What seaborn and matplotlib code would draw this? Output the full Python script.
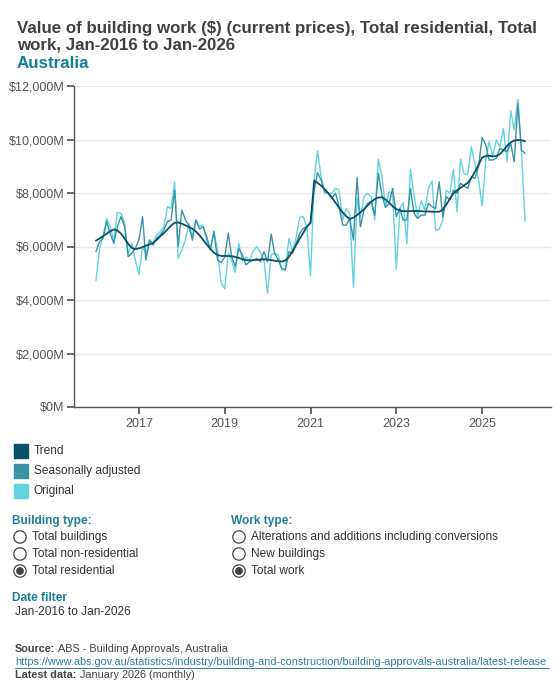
import numpy as np
import pandas as pd
import matplotlib
matplotlib.use("Agg")
import matplotlib.pyplot as plt
from matplotlib.patches import Circle, Rectangle
from matplotlib.ticker import FuncFormatter
import seaborn as sns

# monthly values, $M, Jan-2016 .. Jan-2026
trend = [
    6220, 6300, 6390, 6480, 6570, 6640, 6600, 6480, 6300, 6100, 5950, 5900,
    5930, 5980, 6030, 6080, 6130, 6250, 6380, 6500, 6640, 6780, 6890, 6900,
    6850, 6790, 6730, 6660, 6560, 6420, 6250, 6080, 5910, 5770, 5680, 5650,
    5645, 5645, 5640, 5610, 5570, 5530, 5490, 5480, 5490, 5500, 5510, 5520,
    5510, 5490, 5470, 5450, 5440, 5480, 5610, 5830, 6060, 6300, 6520, 6740,
    6880, 8460, 8380, 8280, 8150, 7990, 7840, 7640, 7450, 7280, 7130, 7030,
    7080, 7170, 7280, 7390, 7530, 7670, 7770, 7830, 7840, 7760, 7640, 7500,
    7400, 7340, 7320, 7320, 7320, 7330, 7330, 7320, 7310, 7310, 7300, 7300,
    7300, 7380, 7560, 7780, 7980, 8100, 8190, 8290, 8380, 8560, 8800, 9050,
    9330, 9380, 9390, 9370, 9380, 9450, 9600, 9760, 9890, 9960, 9980, 9970,
    9940,
]
seasonally_adjusted = [
    5805, 6180, 6305, 6930, 6490, 6120, 6740, 7115, 6740, 5620, 5745, 5930,
    6240, 7115, 5495, 6240, 6055, 6305, 6430, 6615, 6930, 6990, 8110, 5995,
    7365, 6990, 6800, 6240, 6990, 6650, 6740, 6365, 5870, 6555, 5495, 5400,
    5600, 6490, 5620, 5245, 5930, 5680, 5310, 5430, 5495, 5555, 5430, 5805,
    5430, 6465, 5745, 5495, 5185, 5120, 5805, 5745, 6120, 6490, 6680, 6740,
    6930, 8110, 8760, 8485, 8050, 7990, 7800, 7990, 7490, 6800, 6800, 7050,
    6240, 8585, 6740, 7365, 7615, 7675, 7175, 8735, 7900, 7460, 7600, 8175,
    7115, 7425, 6990, 6990, 8175, 7240, 7050, 7175, 7175, 7615, 7490, 7425,
    8420, 7115, 7860, 7740, 8110, 7990, 8360, 8260, 8175, 8610, 8550, 8985,
    10080, 9795, 9235, 9235, 9295, 9670, 9605, 9545, 9855, 9170, 11350, 9620,
    9480,
]
original = [
    4720, 5930, 6365, 7050, 6740, 6240, 7275, 7240, 6865, 5745, 6120, 5495,
    4935, 5995, 5745, 6240, 6120, 6430, 6555, 6740, 7490, 7425, 8420, 5555,
    5870, 6240, 6850, 6400, 6990, 6740, 6800, 6200, 5900, 6580, 5870, 4650,
    4420, 5750, 5460, 5040, 6120, 5460, 5600, 5480, 5830, 5995, 5780, 5495,
    4250, 5700, 5745, 5680, 5120, 5185, 6305, 5805, 6365, 7090, 7115, 6740,
    4900, 8485, 9580, 8610, 8010, 7990, 7990, 8175, 8110, 6990, 7425, 7240,
    4475, 7800, 7115, 7860, 7990, 7860, 6990, 9260, 8600, 7490, 8050, 7925,
    5160, 7425, 7640, 6120, 8885, 7925, 7115, 7710, 7365, 8175, 8450, 6615,
    6640, 6990, 8110, 7990, 8885, 7300, 9260, 8710, 8710, 9730, 9045, 8510,
    7510, 9235, 9920, 9360, 9980, 9730, 10415, 9170, 11075, 10355, 11500, 9605,
    6930,
]
months = pd.date_range("2016-01-01", periods=len(trend), freq="MS")
tick_years = [2017, 2019, 2021, 2023, 2025]
series_names = ["Trend", "Seasonally adjusted", "Original"]
colors = {"Trend": "#0b4f6b", "Seasonally adjusted": "#3893a5", "Original": "#62d3e0"}

df = pd.concat([
    pd.DataFrame({"month": months, "value": original, "series": "Original"}),
    pd.DataFrame({"month": months, "value": seasonally_adjusted, "series": "Seasonally adjusted"}),
    pd.DataFrame({"month": months, "value": trend, "series": "Trend"}),
])

sns.set_theme(style="white")
plt.rcParams["font.family"] = ["Liberation Sans", "DejaVu Sans"]

W, H = 560, 700
fig = plt.figure(figsize=(W / 100, H / 100), dpi=100)
ax = fig.add_axes([74 / W, 1 - 407 / H, (551 - 74) / W, (407 - 86) / H])

widths = {"Original": 1.0, "Seasonally adjusted": 1.0, "Trend": 1.3}
for name in ["Original", "Seasonally adjusted", "Trend"]:
    sub = df[df["series"] == name]
    sns.lineplot(data=sub, x="month", y="value", ax=ax, color=colors[name],
                 linewidth=widths[name], legend=False)

ax.set_ylim(0, 12000)
ax.set_xlim(pd.Timestamp("2015-06-28"), pd.Timestamp("2026-08-10"))
ax.set_yticks(np.arange(0, 12001, 2000))
ax.yaxis.set_major_formatter(FuncFormatter(lambda v, p: f"${v:,.0f}M"))
ax.set_xticks([pd.Timestamp(f"{y}-01-01") for y in tick_years])
ax.set_xticklabels([str(y) for y in tick_years])
ax.set_xlabel("")
ax.set_ylabel("")
ax.grid(axis="y", color="#e8e8e8", linewidth=1)
ax.grid(axis="x", visible=False)
for s in ["top", "right"]:
    ax.spines[s].set_visible(False)
for s in ["left", "bottom"]:
    ax.spines[s].set_color("#555555")
    ax.spines[s].set_linewidth(1)
ax.tick_params(axis="x", bottom=True, length=5, color="#555555", labelsize=9,
               labelcolor="#555555", pad=3)
ax.tick_params(axis="y", left=True, length=5, color="#555555", labelsize=9,
               labelcolor="#555555", pad=2)


def px(x, y):
    return x / W, 1 - y / H


# title
title_kw = dict(fontsize=12.2, fontweight="bold", va="center")
fig.text(*px(17, 28), "Value of building work ($) (current prices), Total residential, Total",
         color="#404040", **title_kw)
fig.text(*px(17, 45), "work, Jan-2016 to Jan-2026", color="#404040", **title_kw)
fig.text(*px(17, 63), "Australia", color="#11809c", **title_kw)

# legend
for i, name in enumerate(series_names):
    yc = 451 + i * 20
    fig.add_artist(Rectangle((14 / 100, (H - yc - 6.5) / 100), 0.135, 0.135,
                             transform=fig.dpi_scale_trans, color=colors[name]))
    fig.text(*px(34, yc), name, fontsize=8.6, color="#333333", va="center")

# filter panels
teal = "#1c7f9b"
fig.text(*px(12, 521), "Building type:", fontsize=8.6, fontweight="bold", color=teal, va="center")
fig.text(*px(231, 521), "Work type:", fontsize=8.6, fontweight="bold", color=teal, va="center")
building_types = ["Total buildings", "Total non-residential", "Total residential"]
work_types = ["Alterations and additions including conversions", "New buildings", "Total work"]
radio_y = [537, 554, 571]
for col_x, opts in [(20, building_types), (239, work_types)]:
    for yc, label in zip(radio_y, opts):
        fig.add_artist(Circle((col_x / 100, (H - yc) / 100), 0.062, transform=fig.dpi_scale_trans,
                              facecolor="white", edgecolor="#444444", linewidth=0.9))
        if label in ("Total residential", "Total work"):
            fig.add_artist(Circle((col_x / 100, (H - yc) / 100), 0.032,
                                  transform=fig.dpi_scale_trans, color="#444444"))
        fig.text(*px(col_x + 12, yc), label, fontsize=8.6, color="#333333", va="center")

fig.text(*px(12, 598), "Date filter", fontsize=8.6, fontweight="bold", color=teal, va="center")
fig.text(*px(15, 612), "Jan-2016 to Jan-2026", fontsize=8.6, color="#333333", va="center")

# source
src_kw = dict(fontsize=7.85, color="#444444", va="center")
fig.text(*px(15, 649), "Source:", fontweight="bold", **src_kw)
fig.text(*px(58, 649), "ABS - Building Approvals, Australia", **src_kw)
url = "https://www.abs.gov.au/statistics/industry/building-and-construction/building-approvals-australia/latest-release"
u = fig.text(*px(15, 662), url, fontsize=7.85, color="#2a7da6", va="center")
u.set_url(url)
fig.add_artist(plt.Line2D([15 / W, 549 / W], [1 - 668 / H, 1 - 668 / H], color="#2a7da6",
                          linewidth=0.7))
fig.text(*px(15, 675), "Latest data:", fontweight="bold", **src_kw)
fig.text(*px(80, 675), "January 2026 (monthly)", **src_kw)

fig.savefig("out.png", dpi=100, facecolor="white")
plt.close(fig)
